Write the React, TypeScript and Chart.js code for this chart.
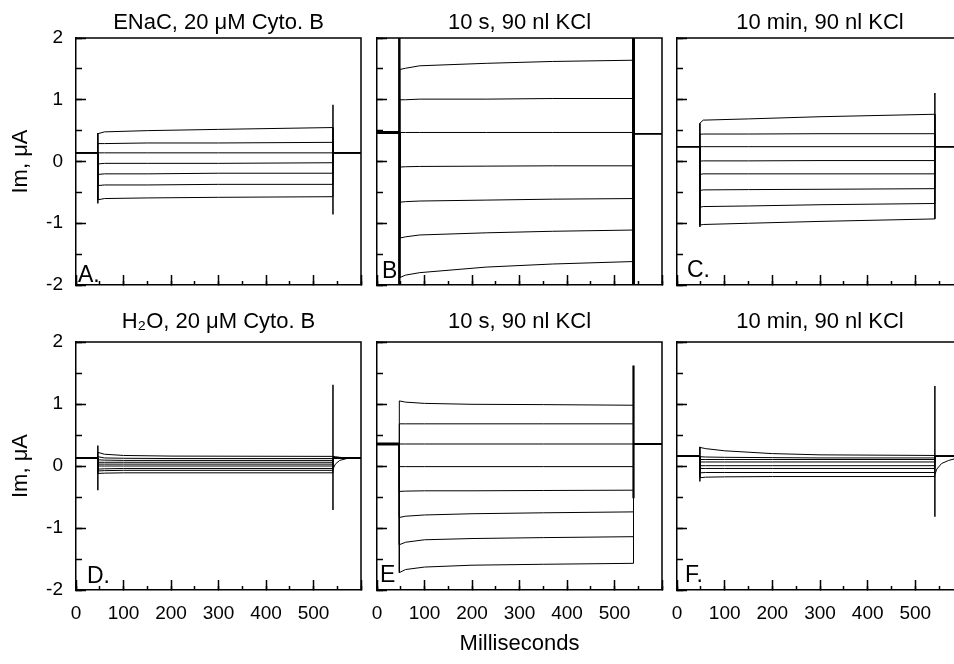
import React, { useEffect, useRef } from 'react';
import { Chart, registerables } from 'chart.js';

Chart.register(...registerables);

const FONT = '"Liberation Sans", Arial, Helvetica, sans-serif';

// ---------- shared axis values ----------
const X_MIN = 0;
const X_MAX = 600;
const X_MAJOR_STEP = 100;
const X_MINOR_STEP = 50;
const Y_MIN = -2;
const Y_MAX = 2;
const Y_MAJOR_STEP = 1;
const Y_MINOR_STEP = 0.5;

const TITLES = [
  'ENaC, 20 μM Cyto. B',
  '10 s, 90 nl KCl',
  '10 min, 90 nl KCl',
  'H₂O, 20 μM Cyto. B',
  '10 s, 90 nl KCl',
  '10 min, 90 nl KCl',
];
const LETTERS = ['A.', 'B', 'C.', 'D.', 'E', 'F.'];
const Y_TITLE = 'Im, μA';
const X_TITLE = 'Milliseconds';

// ---------- Panel A ----------
const A_T = [0, 46, 46, 60, 150, 300, 541, 541, 600];
const A_TRACES = [
  [0.14, 0.14, 0.45, 0.48, 0.5, 0.52, 0.55, 0.14, 0.14],
  [0.14, 0.14, 0.29, 0.29, 0.3, 0.3, 0.31, 0.14, 0.14],
  [0.14, 0.14, 0.14, 0.14, 0.14, 0.14, 0.14, 0.14, 0.14],
  [0.14, 0.14, -0.04, -0.03, -0.03, -0.03, -0.02, 0.14, 0.14],
  [0.14, 0.14, -0.21, -0.2, -0.2, -0.19, -0.19, 0.14, 0.14],
  [0.14, 0.14, -0.39, -0.38, -0.38, -0.37, -0.37, 0.14, 0.14],
  [0.14, 0.14, -0.62, -0.6, -0.59, -0.58, -0.57, 0.14, 0.14],
];
const A_SPIKES = [
  [46, 0.46, -0.68],
  [541, 0.92, -0.86],
];

// ---------- Panel B ----------
const B_T = [0, 48, 48, 60, 90, 230, 370, 540, 540, 600];
const B_TRACES = [
  [0.47, 0.47, 1.49, 1.51, 1.55, 1.59, 1.62, 1.64, 0.45, 0.45],
  [0.47, 0.47, 1.0, 1.0, 1.01, 1.01, 1.02, 1.02, 0.45, 0.45],
  [0.47, 0.47, 0.47, 0.47, 0.47, 0.47, 0.47, 0.47, 0.45, 0.45],
  [0.47, 0.47, -0.09, -0.085, -0.08, -0.075, -0.07, -0.07, 0.45, 0.45],
  [0.47, 0.47, -0.66, -0.65, -0.64, -0.625, -0.61, -0.6, 0.45, 0.45],
  [0.47, 0.47, -1.24, -1.22, -1.19, -1.155, -1.13, -1.11, 0.45, 0.45],
  [0.47, 0.47, -1.88, -1.84, -1.8, -1.71, -1.66, -1.62, 0.45, 0.45],
];
const B_SPIKES = [
  [46, 2.5, -2.5],
  [48, 2.5, -2.5],
  [540, 2.5, -2.5],
];
const B_HOLD = [0, 48, 0.47];

// ---------- Panel C ----------
const C_T = [0, 48, 48, 55, 150, 300, 541, 541, 600];
const C_TRACES = [
  [0.24, 0.24, 0.62, 0.67, 0.69, 0.725, 0.765, 0.24, 0.24],
  [0.24, 0.24, 0.44, 0.445, 0.445, 0.45, 0.45, 0.24, 0.24],
  [0.24, 0.24, 0.24, 0.24, 0.24, 0.24, 0.24, 0.24, 0.24],
  [0.24, 0.24, 0.005, 0.01, 0.01, 0.015, 0.015, 0.24, 0.24],
  [0.24, 0.24, -0.21, -0.2, -0.2, -0.2, -0.2, 0.24, 0.24],
  [0.24, 0.24, -0.47, -0.46, -0.455, -0.45, -0.44, 0.24, 0.24],
  [0.24, 0.24, -0.74, -0.73, -0.72, -0.7, -0.68, 0.24, 0.24],
  [0.24, 0.24, -1.03, -1.02, -1.0, -0.97, -0.93, 0.24, 0.24],
];
const C_SPIKES = [
  [48, 0.62, -1.06],
  [541, 1.11, -0.93],
];

// ---------- Panel D ----------
const D_T = [0, 46, 46, 60, 100, 200, 541, 541, 546, 555, 570, 600];
const D_TRACES = [
  [0.13, 0.13, 0.22, 0.19, 0.17, 0.16, 0.155, 0.155, 0.15, 0.14, 0.13, 0.13],
  [0.13, 0.13, 0.15, 0.13, 0.125, 0.12, 0.12, 0.13, 0.13, 0.13, 0.13, 0.13],
  [0.13, 0.13, 0.1, 0.095, 0.09, 0.09, 0.09, 0.13, 0.13, 0.13, 0.13, 0.13],
  [0.13, 0.13, 0.06, 0.06, 0.06, 0.06, 0.06, 0.13, 0.13, 0.13, 0.13, 0.13],
  [0.13, 0.13, 0.03, 0.03, 0.03, 0.03, 0.03, 0.13, 0.13, 0.13, 0.13, 0.13],
  [0.13, 0.13, 0.0, 0.0, 0.0, 0.0, 0.0, 0.13, 0.13, 0.13, 0.13, 0.13],
  [0.13, 0.13, -0.05, -0.045, -0.04, -0.04, -0.04, 0.13, 0.13, 0.13, 0.13, 0.13],
  [0.13, 0.13, -0.08, -0.075, -0.07, -0.07, -0.07, 0.13, 0.13, 0.13, 0.13, 0.13],
  [0.13, 0.13, -0.12, -0.115, -0.11, -0.11, -0.11, -0.05, 0.03, 0.09, 0.12, 0.13],
];
const D_SPIKES = [
  [46, 0.33, -0.39],
  [541, 1.31, -0.71],
];

// ---------- Panel E ----------
const E_T = [0, 47, 47, 60, 100, 200, 350, 540, 540, 600];
const E_TRACES = [
  [0.355, 0.355, 1.05, 1.03, 1.01, 0.995, 0.99, 0.98, 0.355, 0.355],
  [0.355, 0.355, 0.68, 0.68, 0.68, 0.68, 0.68, 0.68, 0.355, 0.355],
  [0.355, 0.355, 0.355, 0.355, 0.355, 0.355, 0.355, 0.355, 0.355, 0.355],
  [0.355, 0.355, -0.01, -0.01, -0.01, -0.01, -0.01, -0.01, 0.355, 0.355],
  [0.355, 0.355, -0.41, -0.405, -0.4, -0.4, -0.395, -0.39, 0.355, 0.355],
  [0.355, 0.355, -0.83, -0.81, -0.79, -0.77, -0.755, -0.74, 0.355, 0.355],
  [0.355, 0.355, -1.27, -1.23, -1.19, -1.17, -1.155, -1.14, 0.355, 0.355],
  [0.355, 0.355, -1.72, -1.67, -1.63, -1.6, -1.585, -1.57, 0.355, 0.355],
];
const E_SPIKES = [[540, 1.62, -0.52]];
const E_HOLD = [0, 47, 0.355];

// ---------- Panel F ----------
const F_T = [0, 48, 48, 60, 100, 200, 300, 541, 541, 545, 555, 570, 585, 600];
const F_TRACES = [
  [0.16, 0.16, 0.3, 0.28, 0.245, 0.2, 0.18, 0.17, 0.16, 0.16, 0.16, 0.16, 0.16, 0.16],
  [0.16, 0.16, 0.15, 0.145, 0.14, 0.135, 0.13, 0.13, 0.16, 0.16, 0.16, 0.16, 0.16, 0.16],
  [0.16, 0.16, 0.105, 0.105, 0.105, 0.105, 0.105, 0.105, 0.16, 0.16, 0.16, 0.16, 0.16, 0.16],
  [0.16, 0.16, 0.065, 0.065, 0.065, 0.065, 0.065, 0.065, 0.16, 0.16, 0.16, 0.16, 0.16, 0.16],
  [0.16, 0.16, 0.005, 0.005, 0.005, 0.005, 0.005, 0.005, 0.16, 0.16, 0.16, 0.16, 0.16, 0.16],
  [0.16, 0.16, -0.04, -0.04, -0.04, -0.04, -0.04, -0.04, 0.16, 0.16, 0.16, 0.16, 0.16, 0.16],
  [0.16, 0.16, -0.11, -0.105, -0.105, -0.105, -0.105, -0.105, 0.16, 0.16, 0.16, 0.16, 0.16, 0.16],
  [0.16, 0.16, -0.19, -0.18, -0.175, -0.17, -0.17, -0.17, -0.14, -0.05, 0.04, 0.09, 0.12, 0.14],
];
const F_SPIKES = [
  [48, 0.31, -0.25],
  [541, 1.29, -0.82],
];

// ---------- layout (pixels) ----------
type Panel = {
  t: number[];
  traces: number[][];
  spikes: number[][];
  hold?: number[];
  endSpikeWidth: number;
  idx: number;
  left: number;
  top: number;
  width: number;
  height: number;
  yBox: number;
  xBox: number;
  titlePad: { top: number; bottom: number };
  yLabels: boolean;
  xLabels: boolean;
  yTitle: boolean;
  xTitle: boolean;
  letterDx: number;
  letterDy: number;
};

const COLS = [
  { left: 0, width: 371, yBox: 76 },
  { left: 367, width: 305, yBox: 10 },
  { left: 667, width: 306, yBox: 10 },
];
const ROWS = [
  { top: 0, height: 300, xBox: 15, titlePad: { top: 9.3, bottom: 2.3 } },
  { top: 300, height: 364, xBox: 74, titlePad: { top: 8.8, bottom: 6.8 } },
];
const LETTER_OFFS = [
  [2, 3],
  [5, 7],
  [10, 8],
  [11, 7],
  [3, 8],
  [8, 8],
];

const DATA = [
  { t: A_T, traces: A_TRACES, spikes: A_SPIKES },
  { t: B_T, traces: B_TRACES, spikes: B_SPIKES, hold: B_HOLD },
  { t: C_T, traces: C_TRACES, spikes: C_SPIKES },
  { t: D_T, traces: D_TRACES, spikes: D_SPIKES },
  { t: E_T, traces: E_TRACES, spikes: E_SPIKES, hold: E_HOLD },
  { t: F_T, traces: F_TRACES, spikes: F_SPIKES },
];

const PANELS: Panel[] = DATA.map((d, i) => {
  const r = Math.floor(i / 3);
  const c = i % 3;
  return {
    ...d,
    idx: i,
    endSpikeWidth: i === 1 ? 3 : i === 4 ? 2.2 : 1.5,
    left: COLS[c].left,
    width: COLS[c].width,
    yBox: COLS[c].yBox,
    top: ROWS[r].top,
    height: ROWS[r].height,
    xBox: ROWS[r].xBox,
    titlePad: ROWS[r].titlePad,
    yLabels: c === 0,
    yTitle: c === 0,
    xLabels: r === 1,
    xTitle: i === 4,
    letterDx: LETTER_OFFS[i][0],
    letterDy: LETTER_OFFS[i][1],
  };
});

const framePlugin = {
  id: 'frame',
  afterDraw(chart: any) {
    const { ctx, chartArea } = chart;
    ctx.save();
    ctx.strokeStyle = '#000';
    ctx.lineWidth = 1.5;
    ctx.beginPath();
    ctx.moveTo(chartArea.left, chartArea.top);
    ctx.lineTo(chartArea.right, chartArea.top);
    ctx.lineTo(chartArea.right, chartArea.bottom);
    ctx.stroke();
    ctx.restore();
  },
};

const letterPlugin = {
  id: 'panelLetter',
  afterDraw(chart: any, _args: any, opts: any) {
    if (!opts || !opts.text) return;
    const { ctx, chartArea } = chart;
    ctx.save();
    ctx.font = `23px ${FONT}`;
    ctx.fillStyle = '#000';
    ctx.textAlign = 'left';
    ctx.textBaseline = 'alphabetic';
    ctx.fillText(opts.text, chartArea.left + opts.dx, chartArea.bottom - opts.dy);
    ctx.restore();
  },
};

function line(points: { x: number; y: number }[], width: number) {
  return {
    data: points,
    borderColor: '#000',
    backgroundColor: '#000',
    borderWidth: width,
    pointRadius: 0,
    tension: 0,
    fill: false,
    clip: 0,
  };
}

function zeroPad(s: any) {
  s.paddingLeft = 0;
  s.paddingRight = 0;
  s.paddingTop = 0;
  s.paddingBottom = 0;
}

function makeConfig(p: Panel): any {
  const datasets: any[] = [];
  p.traces.forEach((vals) => {
    datasets.push(line(p.t.map((x, k) => ({ x, y: vals[k] })), 1));
  });
  p.spikes.forEach(([x, a, b], k) => {
    const w = k === p.spikes.length - 1 ? p.endSpikeWidth : 1.5;
    datasets.push(line([{ x, y: a }, { x, y: b }], w));
  });
  if (p.hold) {
    datasets.push(line([{ x: p.hold[0], y: p.hold[2] }, { x: p.hold[1], y: p.hold[2] }], 3));
  }
  const tickFont = { family: FONT, size: 19 };
  const titleFont = { family: FONT, size: 22, weight: 'normal' };
  return {
    type: 'line',
    data: { datasets },
    plugins: [framePlugin, letterPlugin],
    options: {
      animation: false,
      responsive: false,
      devicePixelRatio: 1,
      events: [],
      layout: { padding: { left: 0, right: 10, top: 0, bottom: 0 } },
      plugins: {
        legend: { display: false },
        tooltip: { enabled: false },
        title: {
          display: true,
          text: TITLES[p.idx],
          fullSize: false,
          color: '#000',
          font: titleFont,
          padding: p.titlePad,
        },
        panelLetter: { text: LETTERS[p.idx], dx: p.letterDx, dy: p.letterDy },
      },
      scales: {
        x: {
          type: 'linear',
          min: X_MIN,
          max: X_MAX,
          position: 'bottom',
          weight: 1,
          ticks: {
            display: p.xLabels,
            stepSize: X_MAJOR_STEP,
            padding: 22.5,
            color: '#000',
            font: tickFont,
            maxRotation: 0,
            autoSkip: false,
            callback: (v: number) => (v === X_MAX ? '' : String(v)),
          },
          grid: {
            display: true,
            drawOnChartArea: false,
            drawTicks: true,
            tickLength: -10,
            tickWidth: 1.5,
            tickColor: '#000',
          },
          border: { display: true, color: '#000', width: 1.5 },
          title: {
            display: p.xTitle,
            text: X_TITLE,
            color: '#000',
            font: { family: FONT, size: 22 },
            padding: { top: 0, bottom: 7 },
          },
          afterFit: (s: any) => {
            s.height = p.xBox;
            zeroPad(s);
          },
        },
        xm: {
          type: 'linear',
          min: X_MIN,
          max: X_MAX,
          position: 'bottom',
          weight: 0,
          ticks: { display: false, stepSize: X_MINOR_STEP, autoSkip: false },
          grid: {
            display: true,
            drawOnChartArea: false,
            drawTicks: true,
            tickLength: -4,
            tickWidth: 1.5,
            tickColor: '#000',
          },
          border: { display: false },
          afterFit: (s: any) => {
            s.height = 0;
            zeroPad(s);
          },
        },
        y: {
          type: 'linear',
          min: Y_MIN,
          max: Y_MAX,
          position: 'left',
          weight: 1,
          ticks: {
            display: p.yLabels,
            stepSize: Y_MAJOR_STEP,
            padding: 23,
            color: '#000',
            font: tickFont,
            autoSkip: false,
            callback: (v: number) => String(v),
          },
          grid: {
            display: true,
            drawOnChartArea: false,
            drawTicks: true,
            tickLength: -10,
            tickWidth: 1.5,
            tickColor: '#000',
          },
          border: { display: true, color: '#000', width: 1.5 },
          title: {
            display: p.yTitle,
            text: Y_TITLE,
            color: '#000',
            font: { family: FONT, size: 22 },
            padding: { top: 7.8, bottom: 0 },
          },
          afterFit: (s: any) => {
            s.width = p.yBox;
            zeroPad(s);
          },
        },
        ym: {
          type: 'linear',
          min: Y_MIN,
          max: Y_MAX,
          position: 'left',
          weight: 0,
          ticks: { display: false, stepSize: Y_MINOR_STEP, autoSkip: false },
          grid: {
            display: true,
            drawOnChartArea: false,
            drawTicks: true,
            tickLength: -6,
            tickWidth: 1.5,
            tickColor: '#000',
          },
          border: { display: false },
          afterFit: (s: any) => {
            s.width = 0;
            zeroPad(s);
          },
        },
      },
    },
  };
}

export default function App() {
  const refs = useRef<(HTMLCanvasElement | null)[]>([]);

  useEffect(() => {
    const charts: Chart[] = [];
    PANELS.forEach((p, i) => {
      const cv = refs.current[i];
      if (cv) charts.push(new Chart(cv, makeConfig(p)));
    });
    return () => {
      charts.forEach((c) => c.destroy());
    };
  }, []);

  return (
    <div
      style={{
        position: 'absolute',
        left: 0,
        top: 0,
        width: 954,
        height: 664,
        overflow: 'hidden',
        background: '#fff',
      }}
    >
      {PANELS.map((p, i) => (
        <canvas
          key={i}
          ref={(el) => {
            refs.current[i] = el;
          }}
          width={p.width}
          height={p.height}
          style={{ position: 'absolute', left: p.left, top: p.top, width: p.width, height: p.height }}
        />
      ))}
    </div>
  );
}
